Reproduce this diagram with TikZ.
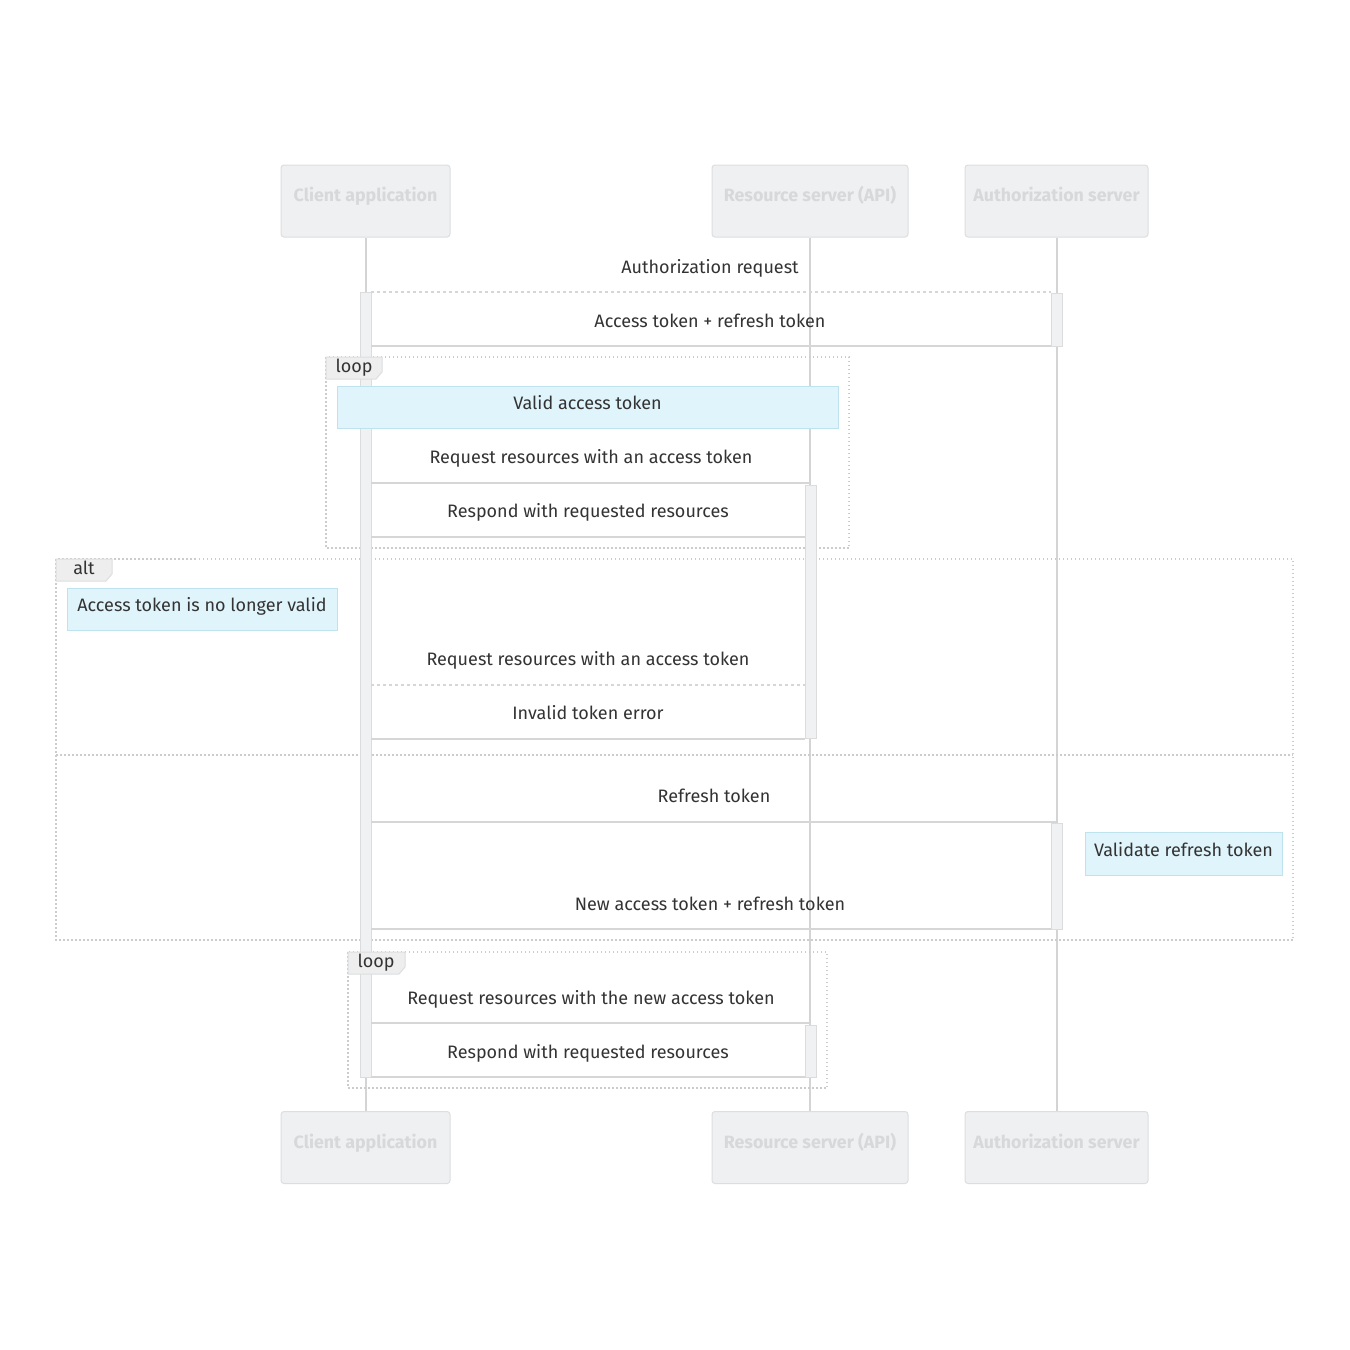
\documentclass[tikz,border=0pt]{standalone}
\usepackage{fontspec}
\setmainfont{Fira Sans}
\definecolor{actfill}{HTML}{EFF0F1}
\definecolor{actdraw}{HTML}{DDDEDF}
\definecolor{acttext}{HTML}{D6D8DA}
\definecolor{lifec}{HTML}{D4D4D4}
\definecolor{barfill}{HTML}{F0F1F2}
\definecolor{bardraw}{HTML}{DCDCDC}
\definecolor{msgc}{HTML}{D6D6D6}
\definecolor{framec}{HTML}{CCCCCC}
\definecolor{notefill}{HTML}{E0F4FB}
\definecolor{notedraw}{HTML}{BEE3EF}
\definecolor{txt}{HTML}{333333}
\definecolor{tabfill}{HTML}{EEEEEE}
\begin{document}
\begin{tikzpicture}[x=1pt,y=-1pt,
  actor/.style={draw=actdraw,fill=actfill,line width=1pt,rounded corners=3pt,
    inner sep=0pt,minimum height=72pt},
  acttxt/.style={text=acttext,font=\fontsize{17.8}{20}\selectfont\bfseries,inner sep=0pt,anchor=base},
  life/.style={draw=lifec,line width=2pt},
  bar/.style={draw=bardraw,fill=barfill,line width=1pt},
  msg/.style={draw=msgc,line width=2.2pt},
  msgdot/.style={draw=msgc,line width=2pt,dash pattern=on 3pt off 3pt},
  frame/.style={draw=framec,line width=1.4pt,dash pattern=on 1.5pt off 2.5pt},
  tabbox/.style={draw=actdraw,fill=tabfill,line width=1pt},
  lbl/.style={text=txt,font=\fontsize{18}{20}\selectfont,inner sep=0pt,anchor=base},
  note/.style={draw=notedraw,fill=notefill,line width=1pt,inner sep=0pt}]
\useasboundingbox (0,0) rectangle (1350,1350);
\fill[white] (0,0) rectangle (1350,1350);

% actors
\node[actor,minimum width=169pt] (ca) at (365.5,201) {};
\node[actor,minimum width=196pt] (rs) at (810,201) {};
\node[actor,minimum width=183pt] (as) at (1056.5,201) {};
\node[actor,minimum width=169pt] (cab) at (365.5,1147.5) {};
\node[actor,minimum width=196pt] (rsb) at (810,1147.5) {};
\node[actor,minimum width=183pt] (asb) at (1056.5,1147.5) {};
\node[acttxt] (cat) at ([yshift=-0.5pt]ca.center) {Client application};
\node[acttxt] (rst) at ([yshift=-0.5pt]rs.center) {Resource server (API)};
\node[acttxt] (ast) at ([yshift=-0.5pt]as.center) {Authorization server};
\node[acttxt] (cabt) at ([yshift=-0.5pt]cab.center) {Client application};
\node[acttxt] (rsbt) at ([yshift=-0.5pt]rsb.center) {Resource server (API)};
\node[acttxt] (asbt) at ([yshift=-0.5pt]asb.center) {Authorization server};

% lifelines
\draw[life] (ca.south) -- (cab.north);
\draw[life] (rs.south) -- (rsb.north);
\draw[life] (as.south) -- (asb.north);

% frames
\draw[frame] (326,357) rectangle (849,548);
\draw[frame] (56,559) rectangle (1293,940);
\draw[frame] (56,755) -- (1293,755);
\draw[frame] (348,952) rectangle (827,1088);

% activations
\draw[bar] (360,292) rectangle (371,1077);
\draw[bar] (1051,293) rectangle (1062,346);
\draw[bar] (1051,823) rectangle (1062,929);
\draw[bar] (805,485) rectangle (816,738);
\draw[bar] (805,1025) rectangle (816,1077);

% message end points
\coordinate (m1a) at (371,292);   \coordinate (m1b) at (1051,292);
\coordinate (m2a) at (1051,346);  \coordinate (m2b) at (371,346);
\coordinate (m3a) at (371,483);   \coordinate (m3b) at (810,483);
\coordinate (m4a) at (805,537);   \coordinate (m4b) at (371,537);
\coordinate (m5a) at (371,685);   \coordinate (m5b) at (805,685);
\coordinate (m6a) at (805,739);   \coordinate (m6b) at (371,739);
\coordinate (m7a) at (371,822);   \coordinate (m7b) at (1056,822);
\coordinate (m8a) at (1051,929);  \coordinate (m8b) at (371,929);
\coordinate (m9a) at (371,1023);  \coordinate (m9b) at (810,1023);
\coordinate (m10a) at (805,1077); \coordinate (m10b) at (371,1077);

\draw[msgdot] (m1a) -- (m1b);
\draw[msg] (m2a) -- (m2b);
\draw[msg] (m3a) -- (m3b);
\draw[msg] (m4a) -- (m4b);
\draw[msgdot] (m5a) -- (m5b);
\draw[msg] (m6a) -- (m6b);
\draw[msg] (m7a) -- (m7b);
\draw[msg] (m8a) -- (m8b);
\draw[msg] (m9a) -- (m9b);
\draw[msg] (m10a) -- (m10b);

% message labels
\node[lbl] (t1) at (710,273) {Authorization request};
\node[lbl] (t2) at (710,327) {Access token + refresh token};
\node[lbl] (t3) at (591,463) {Request resources with an access token};
\node[lbl] (t4) at (588,517) {Respond with requested resources};
\node[lbl] (t5) at (588,665) {Request resources with an access token};
\node[lbl] (t6) at (588,719) {Invalid token error};
\node[lbl] (t7) at (714,802) {Refresh token};
\node[lbl] (t8) at (710,910) {New access token + refresh token};
\node[lbl] (t9) at (591,1004) {Request resources with the new access token};
\node[lbl] (t10) at (588,1058) {Respond with requested resources};

% notes
\node[note,minimum width=501pt,minimum height=42pt] (n1) at (587.5,407) {};
\node[lbl] (n1t) at (587.5,409) {Valid access token};
\node[note,minimum width=270pt,minimum height=42pt] (n2) at (202,609) {};
\node[lbl] (n2t) at (202,611) {Access token is no longer valid};
\node[note,minimum width=197pt,minimum height=43pt] (n3) at (1183.5,853.5) {};
\node[lbl] (n3t) at (1183.5,856) {Validate refresh token};

% frame tabs
\draw[tabbox] (326,357) -- (382,357) -- (382,372) -- (376,379) -- (326,379) -- cycle;
\node[lbl] (loop1) at (354,372) {loop};
\draw[tabbox] (56,559) -- (112,559) -- (112,574) -- (106,581) -- (56,581) -- cycle;
\node[lbl] (alt1) at (84,574) {alt};
\draw[tabbox] (348,952) -- (405,952) -- (405,967) -- (399,974) -- (348,974) -- cycle;
\node[lbl] (loop2) at (376,967) {loop};
\end{tikzpicture}
\end{document}
